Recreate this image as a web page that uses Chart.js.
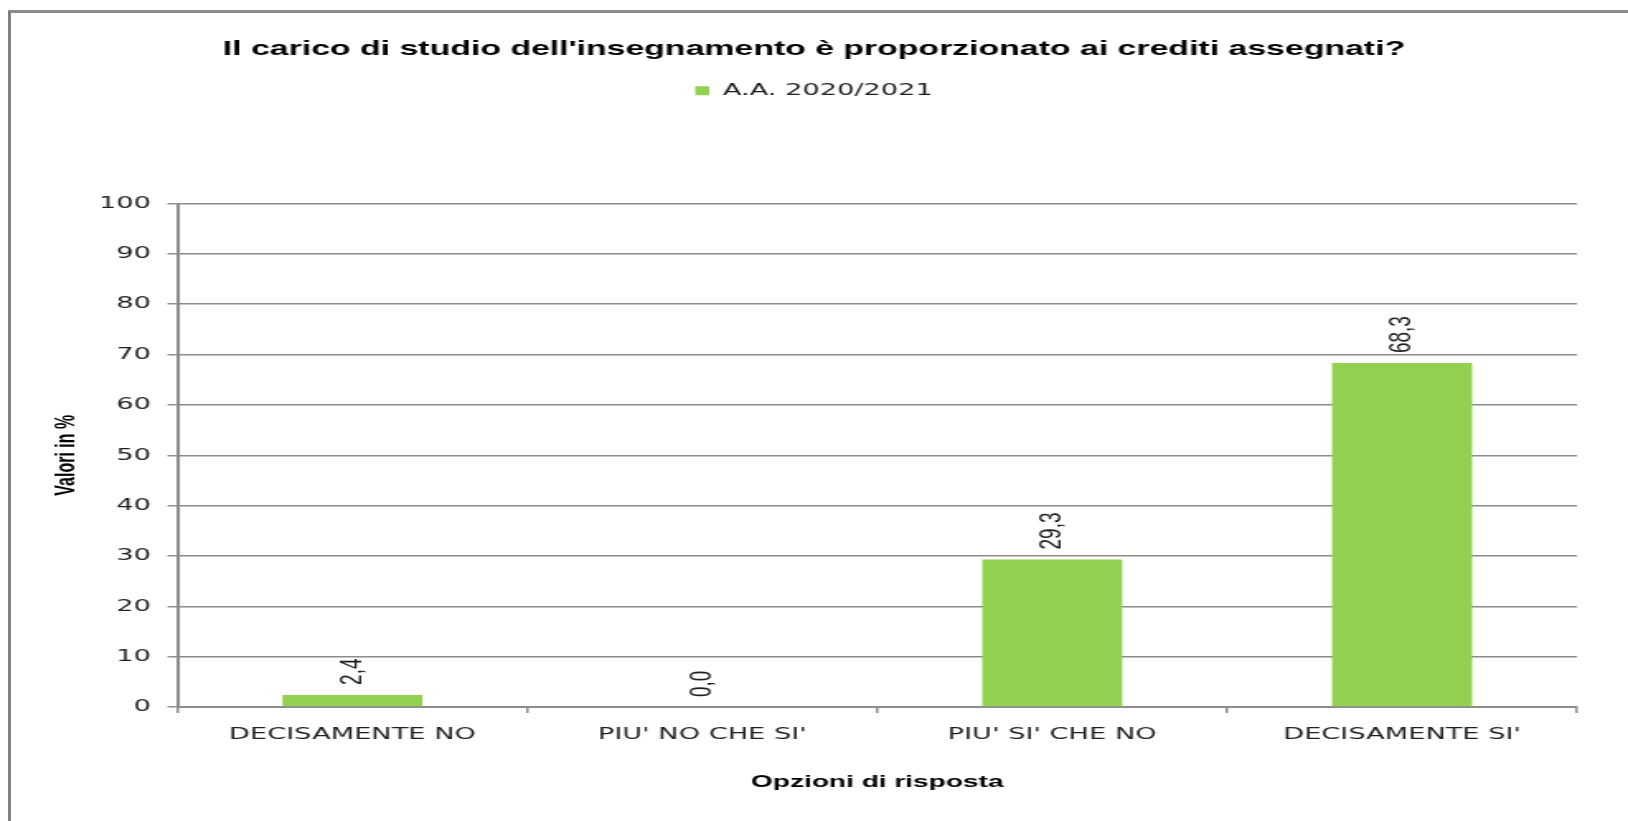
<!DOCTYPE html>
<html lang="it">
<head>
<meta charset="utf-8">
<title>Carico di studio</title>
<script src="https://cdn.jsdelivr.net/npm/chart.js@4.4.1/dist/chart.umd.min.js"></script>
<style>
  html, body { margin: 0; padding: 0; background: #fff; overflow: hidden; }
  body { width: 1628px; height: 821px; position: relative; }
  /* the original picture is stretched horizontally, so the chart is drawn narrow and scaled */
  #wrap { position: absolute; left: 0; top: 0; width: 987px; height: 821px; transform: scaleX(1.6494); transform-origin: 0 0; }
  #frame { position: absolute; left: 8px; top: 10px; right: 0; bottom: 0; border-left: 3px solid #808080; border-top: 3px solid #8a8a8a; pointer-events: none; }
</style>
</head>
<body>
<div id="wrap"><canvas id="chart"></canvas></div>
<div id="frame"></div>
<script>
const categories = ["DECISAMENTE NO", "PIU' NO CHE SI'", "PIU' SI' CHE NO", "DECISAMENTE SI'"];
const values = [2.4, 0.0, 29.3, 68.3];
const seriesLabel = 'A.A. 2020/2021';
const yMin = 0;
const yMax = 100;
const yStep = 10;

const titleText = "Il carico di studio dell'insegnamento è proporzionato ai crediti assegnati?";
const xTitle = 'Opzioni di risposta';
const yTitle = 'Valori in %';

Chart.defaults.font.family = '"DejaVu Sans", Verdana, sans-serif';
Chart.defaults.color = '#1f1f1f';

const gridGray = '#8c8c8c';

// rotated value labels above each bar
const valueLabels = {
    id: 'valueLabels',
    afterDatasetsDraw(chart) {
        const ctx = chart.ctx;
        const meta = chart.getDatasetMeta(0);
        ctx.save();
        ctx.font = '19px "Liberation Sans", Arial, sans-serif';
        ctx.fillStyle = '#1e1e1e';
        ctx.textAlign = 'left';
        ctx.textBaseline = 'middle';
        meta.data.forEach((bar, i) => {
            ctx.save();
            ctx.translate(bar.x, bar.y - 10);
            ctx.rotate(-Math.PI / 2);
            ctx.fillText(values[i].toFixed(1).replace('.', ','), 0, 0);
            ctx.restore();
        });
        ctx.restore();
    }
};

const ctx = document.getElementById('chart').getContext('2d');
const chart = new Chart(ctx, {
    type: 'bar',
    data: {
        labels: categories,
        datasets: [{
            label: seriesLabel,
            data: values,
            backgroundColor: '#92d050',
            borderWidth: 0,
            barPercentage: 0.4,
            categoryPercentage: 1.0
        }]
    },
    options: {
        responsive: true,
        maintainAspectRatio: false,
        animation: false,
        layout: { padding: 0 },
        plugins: {
            title: {
                display: true,
                text: titleText,
                color: '#000',
                font: { family: '"Liberation Sans", Arial, sans-serif', size: 20.5, weight: 'bold', lineHeight: 1.2 },
                padding: { top: 36.7, bottom: 11.2 }
            },
            legend: {
                display: true,
                position: 'top',
                labels: {
                    boxWidth: 8.5,
                    boxHeight: 9,
                    padding: 10,
                    color: '#1f1f1f',
                    font: { size: 16.5 }
                }
            },
            // empty subtitle used as the gap between legend and plot
            subtitle: {
                display: true,
                text: '',
                weight: 500,
                font: { size: 10, lineHeight: 1 },
                padding: { top: 0, bottom: 84.5 }
            },
            tooltip: { enabled: false }
        },
        scales: {
            x: {
                grid: {
                    display: true,
                    drawOnChartArea: false,
                    drawTicks: true,
                    tickLength: 6,
                    color: gridGray,
                    lineWidth: 1.5
                },
                border: { display: true, color: gridGray, width: 2 },
                ticks: {
                    padding: 12,
                    color: '#1f1f1f',
                    font: { size: 16.5 },
                    maxRotation: 0
                },
                title: {
                    display: true,
                    text: xTitle,
                    color: '#000',
                    font: { family: '"Liberation Sans", Arial, sans-serif', size: 17, weight: 'bold', lineHeight: 1.2 },
                    padding: { top: 0, bottom: 28 }
                },
                afterFit(scale) { scale.height = 114; }
            },
            y: {
                min: yMin,
                max: yMax,
                position: 'left',
                ticks: {
                    stepSize: yStep,
                    padding: 10,
                    color: '#1f1f1f',
                    font: { size: 16.5 }
                },
                grid: {
                    color: gridGray,
                    lineWidth: 1.5,
                    drawTicks: true,
                    tickLength: 6
                },
                border: { display: true, color: gridGray, width: 2 },
                title: {
                    display: true,
                    text: yTitle,
                    color: '#000',
                    font: { family: '"Liberation Sans", Arial, sans-serif', size: 16, weight: 'bold', lineHeight: 1.2 },
                    padding: { top: 30.5, bottom: 0 }
                },
                afterFit(scale) { scale.width = 107.6; }
            },
            // invisible spacer axis so the plot ends where the original does
            yRight: {
                position: 'right',
                display: true,
                ticks: { display: false },
                grid: { display: false },
                border: { display: false },
                afterFit(scale) { scale.width = 30.9; }
            }
        }
    },
    plugins: [valueLabels]
});
</script>
</body>
</html>
